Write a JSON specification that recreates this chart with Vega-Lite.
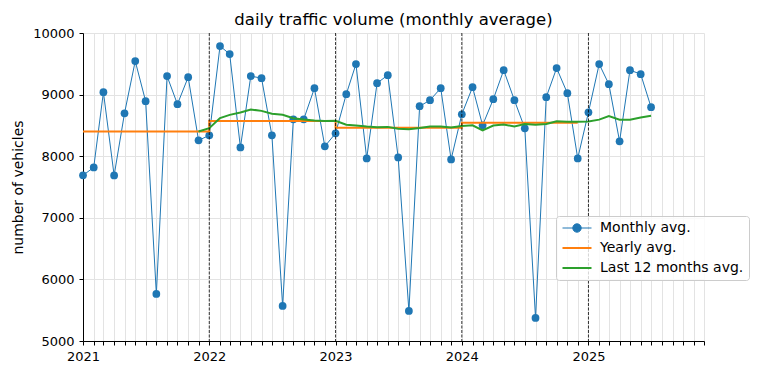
{
  "$schema": "https://vega.github.io/schema/vega-lite/v6.json",
  "autosize": "none",
  "width": 621,
  "height": 308,
  "padding": {"left": 83, "top": 33, "right": 53, "bottom": 33},
  "background": "white",
  "title": {"text": "daily traffic volume (monthly average)", "anchor": "middle", "frame": "group", "fontSize": 16.5, "fontWeight": "normal", "font": "DejaVu Sans", "color": "black", "baseline": "alphabetic", "offset": 9, "dy": 23},
  "datasets": {
    "traffic": [
      {"date": "2021-01-01", "monthly": 7690, "yearly": 8403},
      {"date": "2021-02-01", "monthly": 7818, "yearly": 8403},
      {"date": "2021-03-01", "monthly": 9039, "yearly": 8403},
      {"date": "2021-04-01", "monthly": 7687, "yearly": 8403},
      {"date": "2021-05-01", "monthly": 8697, "yearly": 8403},
      {"date": "2021-06-01", "monthly": 9544, "yearly": 8403},
      {"date": "2021-07-01", "monthly": 8893, "yearly": 8403},
      {"date": "2021-08-01", "monthly": 5765, "yearly": 8403},
      {"date": "2021-09-01", "monthly": 9300, "yearly": 8403},
      {"date": "2021-10-01", "monthly": 8844, "yearly": 8403},
      {"date": "2021-11-01", "monthly": 9283, "yearly": 8403},
      {"date": "2021-12-01", "monthly": 8257, "yearly": 8403, "last12": 8401},
      {"date": "2022-01-01", "monthly": 8339, "yearly": 8570, "last12": 8455},
      {"date": "2022-02-01", "monthly": 9788, "yearly": 8570, "last12": 8619},
      {"date": "2022-03-01", "monthly": 9658, "yearly": 8570, "last12": 8671},
      {"date": "2022-04-01", "monthly": 8143, "yearly": 8570, "last12": 8709},
      {"date": "2022-05-01", "monthly": 9300, "yearly": 8570, "last12": 8759},
      {"date": "2022-06-01", "monthly": 9267, "yearly": 8570, "last12": 8736},
      {"date": "2022-07-01", "monthly": 8339, "yearly": 8570, "last12": 8690},
      {"date": "2022-08-01", "monthly": 5570, "yearly": 8570, "last12": 8674},
      {"date": "2022-09-01", "monthly": 8599, "yearly": 8570, "last12": 8616},
      {"date": "2022-10-01", "monthly": 8599, "yearly": 8570, "last12": 8596},
      {"date": "2022-11-01", "monthly": 9104, "yearly": 8570, "last12": 8581},
      {"date": "2022-12-01", "monthly": 8160, "yearly": 8570, "last12": 8573},
      {"date": "2023-01-01", "monthly": 8371, "yearly": 8460, "last12": 8576},
      {"date": "2023-02-01", "monthly": 9007, "yearly": 8460, "last12": 8511},
      {"date": "2023-03-01", "monthly": 9495, "yearly": 8460, "last12": 8497},
      {"date": "2023-04-01", "monthly": 7964, "yearly": 8460, "last12": 8482},
      {"date": "2023-05-01", "monthly": 9186, "yearly": 8460, "last12": 8472},
      {"date": "2023-06-01", "monthly": 9316, "yearly": 8460, "last12": 8476},
      {"date": "2023-07-01", "monthly": 7980, "yearly": 8460, "last12": 8446},
      {"date": "2023-08-01", "monthly": 5489, "yearly": 8460, "last12": 8439},
      {"date": "2023-09-01", "monthly": 8811, "yearly": 8460, "last12": 8457},
      {"date": "2023-10-01", "monthly": 8909, "yearly": 8460, "last12": 8483},
      {"date": "2023-11-01", "monthly": 9104, "yearly": 8460, "last12": 8483},
      {"date": "2023-12-01", "monthly": 7948, "yearly": 8460, "last12": 8465},
      {"date": "2024-01-01", "monthly": 8681, "yearly": 8545, "last12": 8491},
      {"date": "2024-02-01", "monthly": 9121, "yearly": 8545, "last12": 8501},
      {"date": "2024-03-01", "monthly": 8502, "yearly": 8545, "last12": 8418},
      {"date": "2024-04-01", "monthly": 8925, "yearly": 8545, "last12": 8498},
      {"date": "2024-05-01", "monthly": 9397, "yearly": 8545, "last12": 8516},
      {"date": "2024-06-01", "monthly": 8909, "yearly": 8545, "last12": 8482},
      {"date": "2024-07-01", "monthly": 8453, "yearly": 8545, "last12": 8521},
      {"date": "2024-08-01", "monthly": 5375, "yearly": 8545, "last12": 8511},
      {"date": "2024-09-01", "monthly": 8958, "yearly": 8545, "last12": 8523},
      {"date": "2024-10-01", "monthly": 9430, "yearly": 8545, "last12": 8566},
      {"date": "2024-11-01", "monthly": 9023, "yearly": 8545, "last12": 8559},
      {"date": "2024-12-01", "monthly": 7964, "yearly": 8545, "last12": 8560},
      {"date": "2025-01-01", "monthly": 8713, "last12": 8563},
      {"date": "2025-02-01", "monthly": 9495, "last12": 8594},
      {"date": "2025-03-01", "monthly": 9169, "last12": 8650},
      {"date": "2025-04-01", "monthly": 8241, "last12": 8593},
      {"date": "2025-05-01", "monthly": 9397, "last12": 8593},
      {"date": "2025-06-01", "monthly": 9332, "last12": 8628},
      {"date": "2025-07-01", "monthly": 8795, "last12": 8657}
    ],
    "years": [
      {"date": "2022-01-01"},
      {"date": "2023-01-01"},
      {"date": "2024-01-01"},
      {"date": "2025-01-01"}
    ]
  },
  "encoding": {
    "x": {
      "field": "date",
      "type": "temporal",
      "scale": {"type": "utc", "domain": [{"year": 2021, "month": 1, "date": 1, "utc": true}, {"year": 2025, "month": 12, "date": 1, "utc": true}]},
      "axis": {
        "title": null,
        "tickCount": {"interval": "month", "step": 1},
        "labelExpr": "utcFormat(datum.value, '%m') == '01' ? utcFormat(datum.value, '%Y') : ''",
        "labelOverlap": false,
        "labelFlush": false,
        "grid": true
      }
    }
  },
  "layer": [
    {
      "data": {"name": "traffic"},
      "transform": [
        {"fold": ["monthly", "yearly", "last12"], "as": ["series", "value"]},
        {"filter": "isValid(datum.value) && datum.series == 'monthly'"}
      ],
      "mark": {"type": "line", "strokeWidth": 1},
      "encoding": {
        "y": {"field": "value", "type": "quantitative", "scale": {"domain": [5000, 10000], "nice": false, "zero": false},
          "axis": {"title": "number of vehicles", "values": [5000, 6000, 7000, 8000, 9000, 10000], "format": "d", "grid": true}},
        "color": {"field": "series", "type": "nominal",
          "scale": {"domain": ["monthly", "yearly", "last12"], "range": ["#1f77b4", "#ff7f0e", "#2ca02c"]},
          "legend": {
            "title": null,
            "orient": "none",
            "legendX": 473,
            "legendY": 183,
            "padding": 5,
            "rowPadding": 6,
            "fillColor": "rgba(255,255,255,0.8)",
            "strokeColor": "#cccccc",
            "cornerRadius": 3,
            "symbolOffset": 9,
            "labelOffset": 16,
            "labelFont": "DejaVu Sans",
            "labelFontSize": 14,
            "labelColor": "black",
            "labelExpr": "datum.value == 'monthly' ? 'Monthly avg.' : datum.value == 'yearly' ? 'Yearly avg.' : 'Last 12 months avg.'",
            "encode": {
              "symbols": {
                "update": {
                  "shape": {"signal": "datum.value == 'monthly' ? 'M-1,0H1M0.29,0A0.29,0.29,0,1,1,-0.29,0A0.29,0.29,0,1,1,0.29,0' : 'M-1,0H1'"},
                  "size": {"value": 841},
                  "stroke": {"scale": "color", "field": "value"},
                  "fill": {"signal": "datum.value == 'monthly' ? '#1f77b4' : 'transparent'"},
                  "strokeWidth": {"signal": "datum.value == 'monthly' ? 1 : 2"},
                  "opacity": {"value": 1}
                }
              }
            }
          }
        }
      }
    },
    {
      "data": {"name": "traffic"},
      "transform": [
        {"fold": ["monthly", "yearly", "last12"], "as": ["series", "value"]},
        {"filter": "isValid(datum.value) && datum.series == 'monthly'"}
      ],
      "mark": {"type": "point", "filled": true, "opacity": 1, "size": 60},
      "encoding": {
        "y": {"field": "value", "type": "quantitative"},
        "color": {"field": "series", "type": "nominal"}
      }
    },
    {
      "data": {"name": "traffic"},
      "transform": [
        {"fold": ["monthly", "yearly", "last12"], "as": ["series", "value"]},
        {"filter": "isValid(datum.value) && datum.series == 'yearly'"}
      ],
      "mark": {"type": "line", "strokeWidth": 2, "interpolate": "step-after"},
      "encoding": {
        "y": {"field": "value", "type": "quantitative"},
        "color": {"field": "series", "type": "nominal"}
      }
    },
    {
      "data": {"name": "traffic"},
      "transform": [
        {"fold": ["monthly", "yearly", "last12"], "as": ["series", "value"]},
        {"filter": "isValid(datum.value) && datum.series == 'last12'"}
      ],
      "mark": {"type": "line", "strokeWidth": 2},
      "encoding": {
        "y": {"field": "value", "type": "quantitative"},
        "color": {"field": "series", "type": "nominal"}
      }
    },
    {
      "data": {"name": "years"},
      "mark": {"type": "rule", "color": "black", "strokeWidth": 0.8, "strokeDash": [3, 1.5]},
      "encoding": {}
    }
  ],
  "config": {
    "font": "DejaVu Sans",
    "view": {"stroke": null},
    "axis": {
      "domainColor": "black",
      "domainWidth": 1,
      "tickColor": "black",
      "tickWidth": 1,
      "tickSize": 4,
      "labelFont": "DejaVu Sans",
      "labelFontSize": 13,
      "labelColor": "black",
      "labelPadding": 5,
      "titleFont": "DejaVu Sans",
      "titleFontSize": 14,
      "titleFontWeight": "normal",
      "titleColor": "black",
      "titlePadding": 7,
      "gridColor": "#e3e3e3",
      "gridWidth": 1
    }
  }
}
